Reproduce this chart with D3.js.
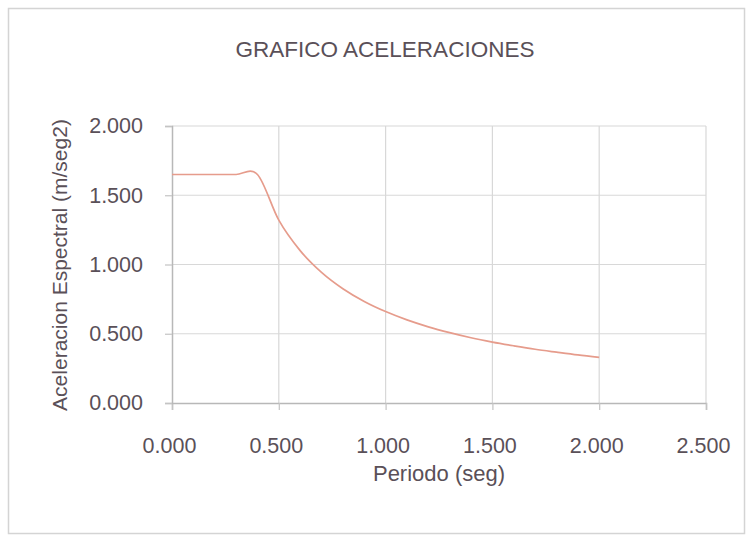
<!DOCTYPE html>
<html>
<head>
<meta charset="utf-8">
<script src="https://cdn.jsdelivr.net/npm/d3@7"></script>
<style>
  html, body { margin: 0; padding: 0; background: #fff; }
  svg { display: block; }
  text { font-family: "Liberation Sans", Arial, sans-serif; fill: #5a5058; }
</style>
</head>
<body>
<svg id="chart" width="752" height="542"></svg>
<script>
const periods = [0.0, 0.1, 0.2, 0.3, 0.4, 0.5, 0.6, 0.7, 0.8, 0.9, 1.0, 1.1, 1.2, 1.3, 1.4, 1.5, 1.6, 1.7, 1.8, 1.9, 2.0];
const accel   = [1.650, 1.650, 1.650, 1.650, 1.650, 1.320, 1.100, 0.943, 0.825, 0.733, 0.660, 0.600, 0.550, 0.508, 0.471, 0.440, 0.413, 0.388, 0.367, 0.347, 0.330];
const xTicks = [0, 0.5, 1.0, 1.5, 2.0, 2.5];
const yTicks = [0, 0.5, 1.0, 1.5, 2.0];
const title = "GRAFICO ACELERACIONES";
const xTitle = "Periodo (seg)";
const yTitle = "Aceleracion Espectral (m/seg2)";

const svg = d3.select("#chart");
const mLeft = 172, mRight = 706, mTop = 126, mBottom = 403;

const x = d3.scaleLinear().domain([0, 2.5]).range([mLeft, mRight]);
const y = d3.scaleLinear().domain([0, 2.0]).range([mBottom, mTop]);

// outer border
svg.append("rect").attr("x", 8.5).attr("y", 8.5).attr("width", 736).attr("height", 525)
  .attr("fill", "none").attr("stroke", "#d4d4d4").attr("stroke-width", 1.5);

// gridlines
svg.append("g").selectAll("line").data(xTicks.slice(1)).join("line")
  .attr("x1", d => x(d)).attr("x2", d => x(d)).attr("y1", mTop).attr("y2", mBottom)
  .attr("stroke", "#d8d8d8").attr("stroke-width", 1.2);
svg.append("g").selectAll("line").data(yTicks.slice(1)).join("line")
  .attr("x1", mLeft).attr("x2", mRight).attr("y1", d => y(d)).attr("y2", d => y(d))
  .attr("stroke", "#d8d8d8").attr("stroke-width", 1.2);

// axes
const fmt = d3.format(".3f");
const xAxis = svg.append("g").attr("transform", `translate(0,${mBottom})`)
  .call(d3.axisBottom(x).tickValues(xTicks).tickFormat(fmt).tickSize(7).tickPadding(28));
const yAxis = svg.append("g").attr("transform", `translate(${mLeft},0)`)
  .call(d3.axisLeft(y).tickValues(yTicks).tickFormat(fmt).tickSize(7).tickPadding(22));
[xAxis, yAxis].forEach(a => {
  a.select(".domain").attr("stroke", "#b8b8b8").attr("stroke-width", 1.5);
  a.selectAll(".tick line").attr("stroke", "#c4c4c4").attr("stroke-width", 1.2);
  a.selectAll(".tick text").style("font-family", '"Liberation Sans", Arial, sans-serif')
    .style("font-size", "21.5px").attr("fill", "#5a5058");
});
xAxis.selectAll(".tick text").attr("dx", "-3");

// line
const line = d3.line().x((d, i) => x(periods[i])).y(d => y(d)).curve(d3.curveCatmullRom.alpha(0));
svg.append("path").datum(accel).attr("d", line)
  .attr("fill", "none").attr("stroke", "#e69c8c").attr("stroke-width", 1.7);

// titles
svg.append("text").attr("x", 385).attr("y", 57).attr("text-anchor", "middle")
  .style("font-size", "22.5px").text(title);
svg.append("text").attr("x", 439).attr("y", 481).attr("text-anchor", "middle")
  .style("font-size", "22px").text(xTitle);
svg.append("text").attr("transform", "translate(67,265) rotate(-90)").attr("text-anchor", "middle")
  .style("font-size", "21px").text(yTitle);
</script>
</body>
</html>
